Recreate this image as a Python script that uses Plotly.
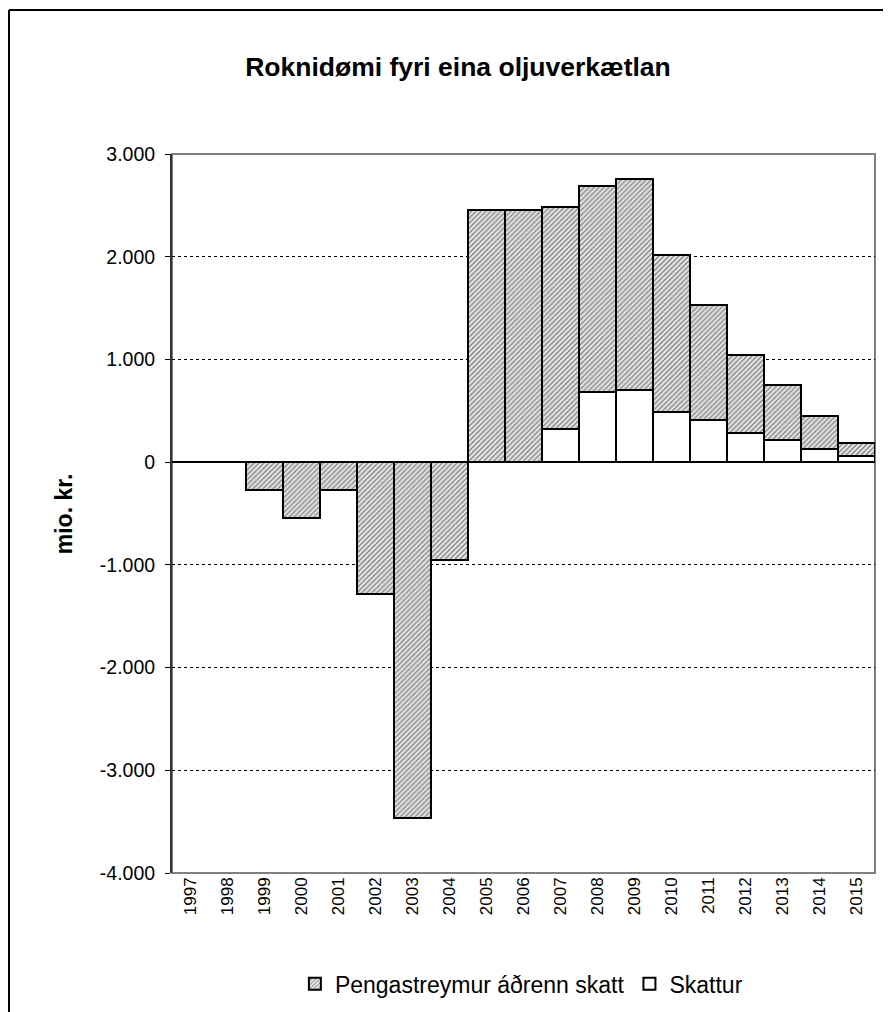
import plotly.graph_objects as go

years = [str(y) for y in range(1997, 2016)]
pre_tax = [None, None, -272, -545, -272, -1284, -3463, -953,
           2455, 2455, 2483, 2686, 2760, 2019, 1533, 1043, 754, 447, 190]
tax = [None, None, None, None, None, None, None, None,
       None, None, 326, 679, 699, 486, 413, 287, 215, 126, 55]

series_names = ["Pengastreymur áðrenn skatt", "Skattur"]
y_ticks = [3000, 2000, 1000, 0, -1000, -2000, -3000, -4000]
y_tick_labels = ["3.000", "2.000", "1.000", "0", "-1.000", "-2.000", "-3.000", "-4.000"]

FONT = "Liberation Sans, Arial, sans-serif"

fig = go.Figure()
fig.add_trace(go.Bar(
    x=years, y=pre_tax, name=series_names[0],
    marker=dict(
        color="#d0d0d0",
        line=dict(color="#000000", width=2),
        pattern=dict(shape="/", fgcolor="#7a7a7a", bgcolor="#e6e6e6",
                     size=3.5, solidity=0.35, fillmode="replace"),
    ),
))
fig.add_trace(go.Bar(
    x=years, y=tax, name=series_names[1],
    marker=dict(color="#ffffff", line=dict(color="#000000", width=2)),
))

W, H = 883, 1004
L, T, R, B = 164, 146, 16, 139

fig.update_layout(
    width=W, height=H,
    paper_bgcolor="white", plot_bgcolor="white",
    barmode="overlay", bargap=0,
    margin=dict(l=L, r=R, t=T, b=B, autoexpand=False),
    font=dict(family=FONT, color="#000000"),
    title=dict(text="<b>Roknidømi fyri eina oljuverkætlan</b>",
               x=0.5096, xanchor="center", y=0.942, yanchor="middle",
               font=dict(size=26.5, family=FONT)),
    showlegend=True,
    legend=dict(orientation="h", x=0.497, xanchor="center", y=-0.154, yanchor="middle",
                font=dict(size=23, family=FONT),
                traceorder="normal", bgcolor="rgba(0,0,0,0)"),
    shapes=[
        dict(type="rect", xref="paper", yref="paper", x0=0, x1=1, y0=0, y1=1,
             line=dict(color="#808080", width=2), layer="below"),
        dict(type="line", xref="paper", yref="paper", x0=-0.2319, x1=1.03,
             y0=1.2003, y1=1.2003, line=dict(color="#000000", width=2)),
        dict(type="line", xref="paper", yref="paper", x0=-0.2319, x1=-0.2319,
             y0=1.2003, y1=-0.2, line=dict(color="#000000", width=2)),
    ],
    annotations=[
        dict(text="<b>mio. kr.</b>", xref="paper", yref="paper", x=-0.154, y=0.5,
             textangle=-90, showarrow=False, xanchor="center", yanchor="middle",
             font=dict(size=23, family=FONT)),
    ],
)

fig.update_yaxes(
    range=[-4000, 3000],
    tickvals=y_ticks, ticktext=y_tick_labels,
    tickfont=dict(size=19.5, family=FONT),
    ticks="outside", ticklen=5, tickcolor="#000000", tickwidth=1,
    ticklabelstandoff=6,
    showline=True, linecolor="#333333", linewidth=2,
    showgrid=True, gridcolor="#000000", gridwidth=1, griddash="3px,3px",
    zeroline=True, zerolinecolor="#000000", zerolinewidth=1.5,
)
fig.update_xaxes(
    type="category",
    tickangle=-90,
    tickfont=dict(size=17, family=FONT),
    showline=False, ticks="", showgrid=False,
)

fig.write_html("out.html")
